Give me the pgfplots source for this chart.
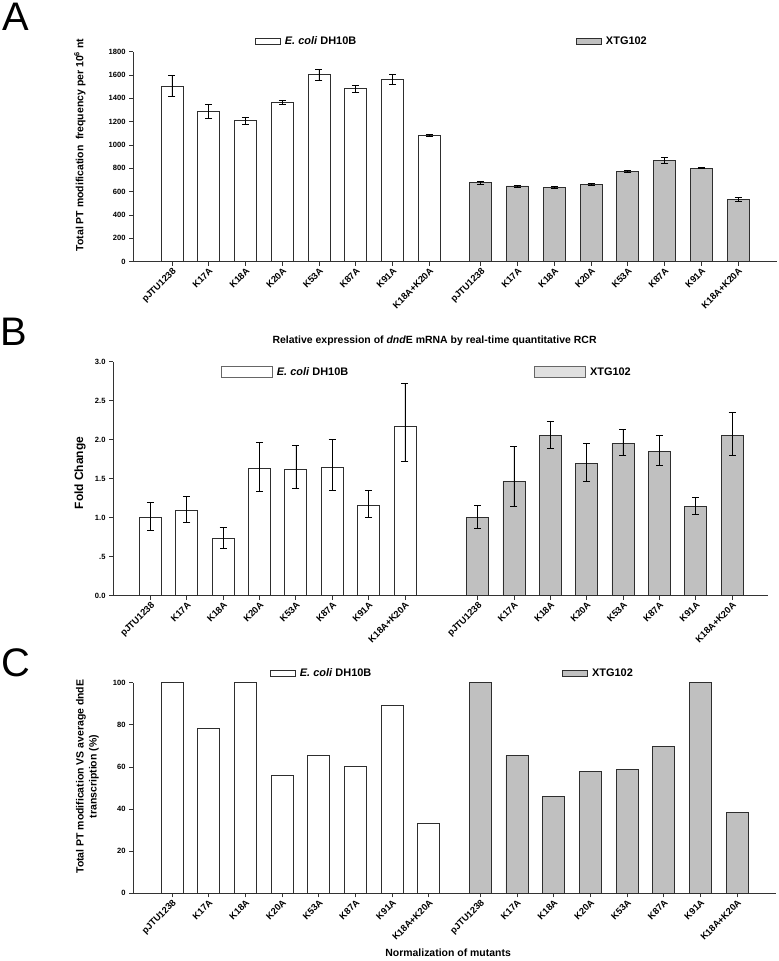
\documentclass[border=0pt]{standalone}
\usepackage{fontspec}
\setmainfont{Liberation Sans}
\setsansfont{Liberation Sans}
\usepackage{pgfplots}
\usepackage{pgfplotstable}
\pgfplotsset{compat=1.18}
\definecolor{barg}{HTML}{C0C0C0}
\definecolor{legg}{HTML}{E0E0E0}
\definecolor{edge}{HTML}{2E2E2E}

\pgfplotstableread{
x y e
0 1505 90
1 1286 60
2 1209 33
3 1366 20
4 1603 46
5 1483 28
6 1563 43
7 1083 9
}\Awhite
\pgfplotstableread{
x y e
8.4 677 13
9.4 649 7
10.4 637 8
11.4 663 10
12.4 777 8
13.4 869 27
14.4 803 3
15.4 534 18
}\Agrey
\pgfplotstableread{
x y ep em
0 1.00 0.20 0.16
1 1.095 0.175 0.155
2 0.736 0.144 0.126
3 1.63 0.34 0.29
4 1.625 0.305 0.245
5 1.646 0.354 0.296
6 1.16 0.19 0.16
7 2.167 0.553 0.447
}\Bwhite
\pgfplotstableread{
x y ep em
9 1.005 0.155 0.145
10 1.467 0.443 0.327
11 2.056 0.184 0.166
12 1.697 0.253 0.227
13 1.954 0.176 0.154
14 1.85 0.206 0.18
15 1.146 0.119 0.099
16 2.056 0.294 0.256
}\Bgrey
\pgfplotstableread{
x y
0 100
1 78.3
2 100
3 55.9
4 65.5
5 60.1
6 89.4
7 33.2
}\Cwhite
\pgfplotstableread{
x y
8.4 100
9.4 65.5
10.4 46.0
11.4 57.8
12.4 59.0
13.4 69.8
14.4 100
15.4 38.5
}\Cgrey

\pgfplotsset{
  panel/.style={scale only axis, anchor=south west,
    axis x line*=bottom, axis y line*=left, enlargelimits=false,
    tick align=outside, major tick length=4bp,
    axis line style={black!80, line width=0.7bp},
    tick style={black!80, line width=0.7bp},
    tick label style={font=\fontsize{7.6}{8}\selectfont\bfseries},
    /pgf/number format/assume math mode=true,
    /pgf/number format/1000 sep={},
    xticklabel style={rotate=45, anchor=north east, inner sep=1bp, font=\fontsize{9.3}{10}\selectfont\bfseries},
    xticklabels={pJTU1238,K17A,K18A,K20A,K53A,K87A,K91A,K18A+K20A,pJTU1238,K17A,K18A,K20A,K53A,K87A,K91A,K18A+K20A},
    legend style={draw=none, fill=none, inner sep=0pt, anchor=west, font=\fontsize{11}{12}\selectfont\bfseries,
      /tikz/every odd column/.append style={column sep=2bp}},
    legend columns=2, legend cell align=left, clip=false},
  bars/.style={ybar, bar width=22bp, bar shift=0pt, draw=edge, line width=0.7bp,
    /pgfplots/error bars/y dir=both, /pgfplots/error bars/y explicit,
    /pgfplots/error bars/error bar style={black, line width=0.6bp},
    /pgfplots/error bars/error mark options={rotate=90, mark size=3.5bp, black, line width=0.6bp}},
  boxleg/.style={legend image code/.code={\draw[##1, line width=0.7bp] (0bp,-3.3bp) rectangle (25bp,3.3bp);}},
  wideleg/.style={legend image code/.code={\draw[##1, line width=0.7bp] (0bp,-5.5bp) rectangle (51bp,5.5bp);}},
}

\begin{document}
\begin{tikzpicture}
\useasboundingbox (0,0) rectangle (779bp,-961bp);

\node[anchor=north west, inner sep=0pt, font=\fontsize{40}{40}\selectfont] at (2bp,-3bp) {A};
\node[anchor=north west, inner sep=0pt, font=\fontsize{40}{40}\selectfont] at (0bp,-318bp) {B};
\node[anchor=north west, inner sep=0pt, font=\fontsize{40}{40}\selectfont] at (1bp,-648bp) {C};

% ---------------- Panel A
\begin{axis}[panel, at={(133bp,-261.7bp)}, width=644bp, height=210bp,
  xmin=-1.06, xmax=16.46, ymin=0, ymax=1800,
  ytick={0,200,400,600,800,1000,1200,1400,1600,1800},
  xtick={0,1,2,3,4,5,6,7,8.4,9.4,10.4,11.4,12.4,13.4,14.4,15.4},
  ylabel={Total PT modification \ frequency per 10\textsuperscript{6} nt},
  ylabel style={at={(axis description cs:-0.0823,0.556)}, anchor=center, font=\fontsize{10.5}{12}\selectfont\bfseries},
  legend style={at={(axis description cs:0.1894,1.05)},
    /tikz/every even column/.append style={column sep=218bp}},
]
\addlegendimage{boxleg, fill=white, draw=edge}
\addlegendentry{\textit{E. coli} DH10B}
\addlegendimage{boxleg, fill=barg, draw=edge}
\addlegendentry{XTG102}
\addplot[bars, fill=white, forget plot] table[x=x, y=y, y error=e]{\Awhite};
\addplot[bars, fill=barg, forget plot] table[x=x, y=y, y error=e]{\Agrey};
\end{axis}

% ---------------- Panel B
\begin{axis}[panel, at={(113bp,-595.7bp)}, width=655bp, height=234bp,
  xmin=-1.03, xmax=16.99, ymin=0, ymax=3,
  ytick={0,0.5,1,1.5,2,2.5,3},
  yticklabels={0.0,.5,1.0,1.5,2.0,2.5,3.0},
  xtick={0,1,2,3,4,5,6,7,9,10,11,12,13,14,15,16},
  ylabel={Fold Change},
  ylabel style={at={(axis description cs:-0.0504,0.524)}, anchor=center, font=\fontsize{12}{13}\selectfont\bfseries},
  title={Relative expression of \textit{dnd}E mRNA by real-time quantitative RCR},
  title style={at={(axis description cs:0.491,1.063)}, anchor=center, yshift=0pt, font=\fontsize{10.5}{12}\selectfont\bfseries},
  legend style={at={(axis description cs:0.1649,0.956)},
    /tikz/every even column/.append style={column sep=184bp}},
]
\addlegendimage{wideleg, fill=white, draw=black!60}
\addlegendentry{\textit{E. coli} DH10B}
\addlegendimage{wideleg, fill=legg, draw=black!60}
\addlegendentry{XTG102}
\addplot[bars, fill=white, forget plot] table[x=x, y=y, y error plus=ep, y error minus=em]{\Bwhite};
\addplot[bars, fill=barg, forget plot] table[x=x, y=y, y error plus=ep, y error minus=em]{\Bgrey};
\end{axis}

% ---------------- Panel C
\begin{axis}[panel, at={(133bp,-893.3bp)}, width=643bp, height=210.6bp,
  xmin=-1.06, xmax=16.46, ymin=0, ymax=100,
  ytick={0,20,40,60,80,100},
  xtick={0,1,2,3,4,5,6,7,8.4,9.4,10.4,11.4,12.4,13.4,14.4,15.4},
  ylabel={Total PT modification VS average dndE\\transcription (\%)},
  ylabel style={at={(axis description cs:-0.0708,0.554)}, anchor=center, align=center, font=\fontsize{10.5}{13}\selectfont\bfseries},
  xlabel={Normalization of mutants},
  xlabel style={at={(axis description cs:0.49,-0.284)}, anchor=center, font=\fontsize{10.5}{12}\selectfont\bfseries},
  legend style={at={(axis description cs:0.2131,1.0446)},
    /tikz/every even column/.append style={column sep=189bp}},
]
\addlegendimage{boxleg, fill=white, draw=edge}
\addlegendentry{\textit{E. coli} DH10B}
\addlegendimage{boxleg, fill=barg, draw=edge}
\addlegendentry{XTG102}
\addplot[ybar, bar width=22bp, bar shift=0pt, draw=edge, line width=0.7bp, fill=white, forget plot] table[x=x, y=y]{\Cwhite};
\addplot[ybar, bar width=22bp, bar shift=0pt, draw=edge, line width=0.7bp, fill=barg, forget plot] table[x=x, y=y]{\Cgrey};
\end{axis}
\end{tikzpicture}
\end{document}
